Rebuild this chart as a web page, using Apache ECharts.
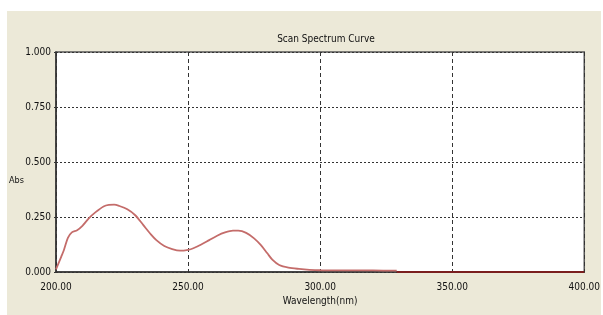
<!DOCTYPE html>
<html>
<head>
<meta charset="utf-8">
<script src="https://cdn.jsdelivr.net/npm/echarts@6/dist/echarts.min.js"></script>
<style>
  html, body { margin: 0; padding: 0; background: #fff; }
  #chart { width: 603px; height: 315px; }
</style>
</head>
<body>
<div id="chart"></div>
<script>
// scan data
const wavelength = [200, 202, 203, 204.5, 206, 208, 210, 212.5, 215, 218, 220, 222, 224, 227, 230, 233, 236, 238, 241, 244, 247, 250, 252, 255, 258, 261, 264, 267, 269, 272, 275, 277.5, 280, 282, 284.5, 288, 292, 296, 300, 310, 320, 329];
const absorbance = [0.012, 0.07, 0.10, 0.155, 0.18, 0.19, 0.21, 0.245, 0.272, 0.298, 0.305, 0.306, 0.30, 0.285, 0.258, 0.214, 0.17, 0.145, 0.118, 0.104, 0.097, 0.101, 0.108, 0.125, 0.145, 0.165, 0.18, 0.188, 0.188, 0.178, 0.153, 0.123, 0.085, 0.055, 0.032, 0.02, 0.014, 0.01, 0.008, 0.007, 0.007, 0.006];
// flat tail drawn darker along the axis
const tailWavelength = [329, 400];
const tailAbsorbance = [0, 0];

const font = '"DejaVu Sans Condensed", "Liberation Sans Narrow", sans-serif';

const chart = echarts.init(document.getElementById('chart'));
chart.setOption({
    animation: false,
    backgroundColor: '#fff',
    graphic: [
        { type: 'rect', z: -10, shape: { x: 7, y: 11, width: 594, height: 304 }, style: { fill: '#ECE9D8' } },
        { type: 'text', left: 9, top: 176, style: { text: 'Abs', font: '9px ' + font, fill: '#111' } }
    ],
    title: {
        text: 'Scan Spectrum Curve',
        left: 321, top: 29, textAlign: 'center',
        textStyle: { fontFamily: font, fontSize: 10, fontWeight: 'normal', color: '#111' }
    },
    grid: {
        left: 56, top: 52, right: 16, bottom: 43,
        show: true, backgroundColor: '#fff', borderColor: '#555', borderWidth: 1.5
    },
    xAxis: {
        type: 'value', min: 200, max: 400, interval: 50,
        name: 'Wavelength(nm)', nameLocation: 'middle', nameGap: 23,
        nameTextStyle: { fontFamily: font, fontSize: 10, color: '#111' },
        axisLine: { lineStyle: { color: '#333', width: 1.5 } },
        axisTick: { show: false },
        axisLabel: { fontFamily: font, fontSize: 10, color: '#111', margin: 10, formatter: v => v.toFixed(2) },
        splitLine: { show: true, lineStyle: { color: '#333', type: [4, 3], width: 1 } }
    },
    yAxis: {
        type: 'value', min: 0, max: 1, interval: 0.25,
        axisLine: { show: true, lineStyle: { color: '#333', width: 1.5 } },
        axisTick: { show: true, length: 2, lineStyle: { color: '#333' } },
        axisLabel: { fontFamily: font, fontSize: 10, color: '#111', margin: 5, formatter: v => v.toFixed(3) },
        splitLine: { show: true, lineStyle: { color: '#333', type: [2, 2], width: 1 } }
    },
    series: [
        {
            type: 'line', smooth: 0.3, symbol: 'none',
            data: wavelength.map((w, i) => [w, absorbance[i]]),
            lineStyle: { color: '#C46C6A', width: 1.8 }
        },
        {
            type: 'line', symbol: 'none',
            data: tailWavelength.map((w, i) => [w, tailAbsorbance[i]]),
            lineStyle: { color: '#7A1E1E', width: 2 }
        }
    ]
});
</script>
</body>
</html>
